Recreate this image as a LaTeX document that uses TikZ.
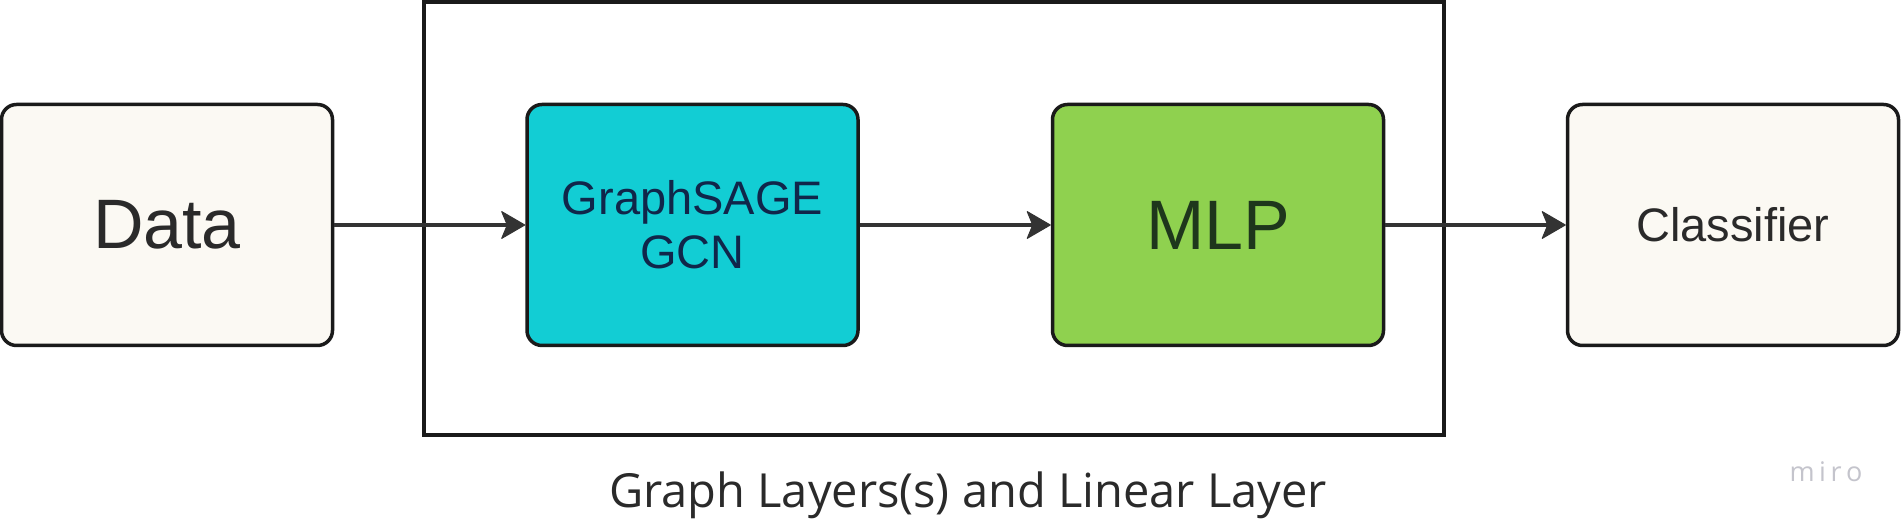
\documentclass[tikz,border=0pt]{standalone}
\usepackage{fontspec}
\setmainfont{Liberation Sans}
\newfontfamily\labelfont{Open Sans}
\usetikzlibrary{arrows.meta}
\definecolor{cream}{HTML}{FBF9F3}
\definecolor{cyanbox}{HTML}{12CDD4}
\definecolor{greenbox}{HTML}{8FD14F}
\definecolor{edge}{HTML}{1A1A1A}
\definecolor{arrowc}{HTML}{333333}
\definecolor{txtdark}{HTML}{2A2A2A}
\definecolor{txtnavy}{HTML}{10264A}
\definecolor{txtgreen}{HTML}{1E361C}
\definecolor{mirogray}{HTML}{C4C4CC}
\tikzset{
  x=1pt, y=1pt,
  blockbox/.style={draw=edge, line width=3.5pt, rounded corners=15pt,
    minimum width=331pt, minimum height=241pt, inner sep=0pt, align=center},
  flow/.style={color=arrowc, line width=4pt,
    -{Stealth[length=25pt,width=29pt,inset=6pt,line width=1pt,fill=arrowc,round]}},
  frame/.style={draw=edge, line width=4pt}
}
\begin{document}
\begin{tikzpicture}
\useasboundingbox (0,0) rectangle (1901,526);
\fill[white] (0,0) rectangle (1901,526);
\draw[frame] (423.5,523.5) rectangle (1444,91);
\node[blockbox, fill=cream, text=txtdark, font=\fontsize{70}{84}\selectfont] (data) at (167,301) {Data};
\node[blockbox, fill=cyanbox, text=txtnavy, font=\fontsize{47}{54}\selectfont] (gs) at (692.5,301) {GraphSAGE\\GCN};
\node[blockbox, fill=greenbox, text=txtgreen, font=\fontsize{70}{84}\selectfont] (mlp) at (1218,301) {MLP};
\node[blockbox, fill=cream, text=txtdark, font=\fontsize{47}{54}\selectfont] (cls) at (1733,301) {Classifier};
\draw[flow] (data) -- (gs);
\draw[flow] (gs) -- (mlp);
\draw[flow] (mlp) -- (cls);
\node[anchor=base, inner sep=0pt, text=txtdark, font=\labelfont\fontsize{47}{56}\selectfont] (lbl) at (968,18) {Graph Layers(s) and Linear Layer};
\node[anchor=base, inner sep=0pt, text=mirogray, font=\labelfont\fontsize{27}{32}\selectfont] (miro) at (1826,44) {m\,i\,r\,o};
\end{tikzpicture}
\end{document}
